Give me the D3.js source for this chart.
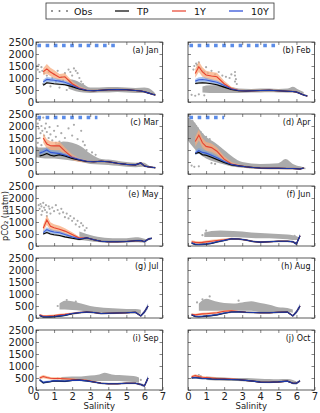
<!DOCTYPE html>
<html>
<head>
<meta charset="utf-8">
<script src="https://cdn.jsdelivr.net/npm/d3@7"></script>
<style>
  body { margin: 0; background: #fff; }
  text { font-family: "DejaVu Sans", sans-serif; }
</style>
</head>
<body>
<script>
// salinity grid shared by the model curves
const sal = [0.2,0.4,0.6,0.8,1.0,1.3,1.6,2.0,2.4,2.8,3.2,3.6,4.0,4.5,5.0,5.5,5.8,6.0,6.2,6.4,6.6];

const panelLabels = ["(a) Jan","(b) Feb","(c) Mar","(d) Apr","(e) May","(f) Jun","(g) Jul","(h) Aug","(i) Sep","(j) Oct"];

// TP curves
const tpSeries = [
  [null,700,800,780,760,740,720,640,540,480,470,490,510,520,510,480,460,430,380,330,290],
  [null,770,790,800,790,760,720,620,520,470,460,470,480,490,470,450,440,420,350,290,250],
  [750,790,850,780,750,800,750,650,580,520,510,530,510,450,400,380,460,330,300,280,260],
  [null,850,900,800,780,700,600,480,380,340,300,270,250,240,240,230,230,220,210,250,null],
  [null,500,560,500,470,440,380,320,270,340,260,200,180,180,190,220,230,180,280,320,null],
  [120,60,60,70,80,110,170,230,300,290,250,190,160,180,200,200,180,90,430,null,null],
  [100,40,40,45,50,80,110,180,220,250,230,190,200,210,220,240,90,250,500,null,null],
  [130,60,50,60,80,100,130,200,250,260,240,230,220,220,240,250,90,250,500,null,null],
  [420,300,330,350,380,370,360,400,410,380,330,280,260,260,280,280,230,170,500,null,null],
  [500,520,500,480,480,460,450,450,440,430,400,370,330,320,340,370,280,280,380,null,null]
];
// 10Y curves
const y10Series = [
  [null,840,940,920,905,870,820,700,560,490,470,490,510,520,510,480,460,430,380,330,290],
  [null,870,930,940,920,870,820,690,540,480,460,470,480,490,470,450,440,420,350,290,250],
  [870,930,1000,900,880,850,790,690,600,530,510,530,510,450,400,380,460,330,300,280,260],
  [null,880,970,900,870,780,680,520,400,340,300,270,250,240,240,230,230,220,210,250,null],
  [null,560,680,620,580,550,480,380,300,340,260,200,180,180,190,220,230,180,280,320,null],
  [130,70,65,75,90,120,175,235,300,290,250,190,160,180,200,200,180,90,430,null,null],
  [110,50,45,50,60,90,120,185,225,250,230,190,200,210,220,240,90,250,500,null,null],
  [140,70,60,70,90,110,140,205,250,260,240,230,220,220,240,250,90,250,500,null,null],
  [430,320,340,360,390,380,370,400,410,380,330,280,260,260,280,280,230,170,500,null,null],
  [510,520,500,480,480,460,450,450,440,430,400,370,330,320,340,370,280,280,380,null,null]
];
// 1Y curves
const y1Series = [
  [null,1260,1380,1250,1160,1020,1050,760,580,490,470,490,510,520,510,480,460,430,380,330,290],
  [null,1190,1470,1250,1125,1080,1050,760,560,480,460,470,480,490,470,450,440,420,350,290,250],
  [null,1500,1250,1180,1170,1170,950,700,580,530,510,530,510,450,400,380,460,330,300,280,260],
  [null,1350,1620,1300,1150,1100,950,620,420,350,300,270,250,240,240,230,230,220,210,250,null],
  [null,740,1080,820,760,700,620,480,330,340,260,200,180,180,190,220,230,180,280,320,null],
  [180,150,140,150,170,200,230,260,300,290,250,190,160,180,200,200,180,90,430,null,null],
  [130,80,80,90,100,130,150,190,230,250,230,190,200,210,220,240,90,250,500,null,null],
  [150,130,150,170,180,200,220,280,300,270,240,230,220,220,240,250,90,250,500,null,null],
  [500,560,520,490,480,480,470,450,420,400,340,280,260,260,280,280,230,170,500,null,null],
  [550,600,560,530,520,500,480,470,460,440,400,370,330,320,340,370,280,280,380,null,null]
];
// half widths of the shaded ranges
const y1Spread = [
  [null,150,200,180,170,150,150,120,80,50,40,40,40,40,40,40,40,40,30,30,30],
  [null,180,220,200,180,170,170,130,80,50,40,40,40,40,40,40,40,40,30,30,30],
  [null,200,200,180,170,170,150,120,80,50,40,40,40,40,40,40,40,40,30,30,30],
  [null,200,220,200,180,170,150,120,80,50,40,40,40,40,40,40,40,40,30,30,30],
  [null,150,200,170,150,140,120,90,60,40,30,30,30,30,30,30,30,30,30,30,30],
  [60,60,60,60,60,60,50,50,40,30,30,30,30,30,30,30,30,40,60,null,null],
  [50,50,50,50,50,50,50,40,40,30,30,30,30,30,30,30,40,60,80,null,null],
  [50,50,50,50,50,50,50,40,40,30,30,30,30,30,30,30,40,60,80,null,null],
  [60,70,60,50,50,50,40,40,40,30,30,30,30,30,30,30,40,50,60,null,null],
  [50,60,50,50,40,40,40,40,30,30,30,30,30,30,30,30,30,40,40,null,null]
];
const y10Spread = [
  [null,90,100,100,90,80,80,70,50,40,30,30,30,30,30,30,30,30,30,30,30],
  [null,90,100,100,90,80,80,70,50,40,30,30,30,30,30,30,30,30,30,30,30],
  [90,100,110,100,90,80,80,70,50,40,30,30,30,30,30,30,30,30,30,30,30],
  [null,100,110,100,90,80,70,60,40,30,30,30,30,30,30,30,30,30,30,30,null],
  [null,80,100,90,80,70,60,50,40,30,30,30,30,30,30,30,30,40,50,50,null],
  [40,40,40,40,40,40,40,30,30,30,30,30,30,30,30,30,40,70,100,null,null],
  [40,40,40,40,40,40,40,30,30,30,30,30,30,30,30,30,50,80,110,null,null],
  [40,40,40,40,40,40,40,30,30,30,30,30,30,30,30,30,50,80,110,null,null],
  [50,60,50,40,40,40,40,30,30,30,30,30,30,30,30,30,50,70,110,null,null],
  [40,40,40,40,40,40,30,30,30,30,30,30,30,30,30,30,40,50,60,null,null]
];

// dense observation clouds (envelopes)
const obsSal = [
  [1.8,2.2,2.6,3.0,3.5,4.0,4.5,5.0,5.5,6.0,6.4,6.6],
  [0.8,1.2,1.6,2.0,2.4,2.8,3.5,4.0,4.5,5.0,5.5,5.8,6.1,6.4],
  [0.0,0.5,1.0,1.5,2.0,2.5,3.0,3.5,4.0,4.5,5.0,5.5,5.9,6.3],
  [0.0,0.3,0.6,1.0,1.5,2.0,2.5,3.0,4.0,5.0,5.4,5.8,6.2,6.5],
  [2.4,2.8,3.2,3.6,4.0,4.5,5.0,5.5,5.8,6.1],
  [0.9,1.3,1.8,2.5,3.0,3.5,4.0,4.5,5.0,5.5,5.8,6.1],
  [1.3,1.6,2.0,2.5,3.0,3.5,4.0,4.5,5.0,5.5,5.8],
  [0.6,1.0,1.5,2.0,2.5,3.0,3.5,4.0,4.5,5.0,5.5,5.8],
  [1.4,2.0,2.5,3.0,3.5,3.8,4.2,4.6,5.0,5.4,5.7],
  [1.0,1.5,2.0,2.5,3.0,3.5,4.0,4.5,5.0,5.5,5.8,6.0]
];
const obsLo = [
  [550,450,400,380,400,400,420,400,380,380,330,280],
  [400,380,380,380,380,380,400,400,410,400,400,420,380,330],
  [700,650,650,600,550,500,420,400,380,340,300,280,300,260],
  [1400,1100,850,650,500,400,300,260,220,230,250,240,220,200],
  [250,220,180,160,150,150,150,160,150,150],
  [380,380,380,370,350,330,320,320,300,280,250,250],
  [350,350,330,300,250,230,200,200,200,190,180],
  [300,300,300,300,320,300,300,250,250,250,250,220],
  [400,400,390,380,380,380,380,370,350,330,300],
  [420,400,390,370,360,340,320,310,300,330,300,280]
];
const obsHi = [
  [950,900,750,600,600,620,620,600,580,600,500,350],
  [650,700,700,680,620,560,540,560,560,540,560,640,520,420],
  [1100,1100,1200,1350,1300,1150,850,650,600,550,500,470,480,320],
  [2300,2200,1900,1550,1300,1000,700,500,420,450,620,420,320,260],
  [600,500,420,360,330,320,320,360,340,280],
  [560,620,650,620,600,560,540,520,500,480,450,380],
  [600,720,700,600,500,450,420,400,380,370,340],
  [600,800,700,620,600,650,700,620,550,450,420,350],
  [540,560,560,600,650,720,650,620,600,580,520],
  [560,540,520,500,500,490,470,460,450,460,420,360]
];
// scattered observations outside the dense clouds [salinity, pCO2]
const obsPts = [
  [[0.05,1500],[0.1,1350],[0.15,1550],[0.2,1250],[0.3,1450],[0.35,1300],[0.45,1200],[0.6,1100],[0.7,1250],[0.9,1000],[1.0,1150],[1.1,850],[1.2,1300],[1.4,1050],[1.5,900],[1.6,1200],[1.8,1350],[1.9,1250],[2.0,1100],[2.1,1400],[2.2,1300],[2.3,1200],[2.4,1000],[0.4,750],[0.8,650],[1.3,600],[1.7,500],[2.5,850],[2.6,750]],
  [[0.3,1350],[0.35,1500],[0.45,1600],[0.5,1550],[0.55,1450],[0.6,1650],[0.7,1400],[0.8,1300],[0.9,1250],[1.0,1450],[1.1,1200],[1.3,1300],[1.5,1150],[1.7,1250],[1.9,1100],[2.1,1050],[2.3,1000],[2.6,1250],[2.6,1100],[2.65,950],[2.6,850],[2.7,750],[0.2,300],[0.4,260],[0.6,320],[0.9,280],[2.4,1150]],
  [[0.05,2300],[0.1,2100],[0.15,1900],[0.2,2250],[0.25,1700],[0.3,2000],[0.35,1800],[0.4,2350],[0.45,1600],[0.5,1900],[0.55,2100],[0.6,1750],[0.7,1500],[0.75,1950],[0.8,1650],[0.9,1400],[1.0,1800],[1.1,1550],[1.2,2000],[1.3,1350],[1.4,1700],[1.5,1250],[1.6,1500],[1.8,1900],[2.0,1600],[2.1,2050],[2.3,1450],[2.5,1800],[2.6,1350],[2.7,1200],[0.1,1300],[0.2,1500],[0.05,1100],[0.3,1200],[0.6,1300],[1.1,1300],[2.8,1000],[3.1,900],[3.3,800]],
  [[0.02,2450],[0.05,2300],[0.1,2400],[0.1,2150],[0.15,2000],[0.2,2350],[0.25,2200],[0.3,1900],[0.35,2100],[0.4,1800],[0.45,2000],[0.5,1700],[0.55,1900],[0.6,1600],[0.7,1750],[0.75,1500],[0.8,1650],[0.9,1400],[1.0,1550],[1.1,1300],[1.2,1450],[1.4,1250],[1.6,1150],[0.2,350],[0.35,300],[0.6,320],[1.3,450],[1.5,420],[0.1,1700],[0.3,1600]],
  [[0.15,1700],[0.2,1550],[0.25,1750],[0.3,1650],[0.35,1450],[0.4,1800],[0.45,1600],[0.5,1500],[0.55,1700],[0.6,1400],[0.7,1650],[0.75,1550],[0.8,1350],[0.9,1600],[1.0,1450],[1.1,1700],[1.2,1500],[1.3,1350],[1.4,1550],[1.5,1400],[1.7,1350],[1.9,1250],[2.1,1150],[2.3,1050],[2.5,950],[2.6,850],[2.8,750],[1.8,1150],[2.0,1050],[2.2,900],[2.4,800],[2.7,650],[0.3,1300],[0.6,1250],[1.6,1200]],
  [[0.8,450],[1.0,640],[5.9,420],[6.0,350]],
  [[1.2,500],[1.7,750],[2.2,680]],
  [[0.5,650],[0.8,780],[1.2,900],[2.8,720]],
  [[5.8,420],[1.2,480]],
  [[0.6,620],[0.7,580]]
];
// extent of the blue square markers along the top of panels a-d
const flagEnd = [4.6,4.9,3.4,2.0,null,null,null,null,null,null];

const legendItems = ["Obs","TP","1Y","10Y"];
const xTicks = [0,1,2,3,4,5,6,7];
const yTicks = [0,500,1000,1500,2000,2500];

const W = 320, H = 413;
const colX = [36, 188], rowY = [42, 114, 186, 258, 330];
const pw = 126.5, ph = 60;

const C = {
  obs: "#ababab", tp: "#000000", y1: "#e8422e", y10: "#2347d6",
  y1band: "#f7ab7e", y10band: "#6f9de3", tpband: "#555555", flag: "#5b8ce8"
};

const svg = d3.select("body").append("svg").attr("width", W).attr("height", H);

panelLabels.forEach(function (lab, i) {
  const col = i % 2, row = Math.floor(i / 2);
  const x0 = colX[col], y0 = rowY[row];
  const x = d3.scaleLinear().domain([0, 7]).range([x0, x0 + pw]);
  const y = d3.scaleLinear().domain([0, 2500]).range([y0 + ph, y0]);

  svg.append("clipPath").attr("id", "clip" + i)
    .append("rect").attr("x", x0).attr("y", y0).attr("width", pw).attr("height", ph);
  const g = svg.append("g").attr("clip-path", "url(#clip" + i + ")");

  // observations
  const env = obsSal[i].map((s, k) => ({s: s, lo: obsLo[i][k], hi: obsHi[i][k]}));
  g.append("path")
    .attr("d", d3.area().curve(d3.curveMonotoneX).x(d => x(d.s)).y0(d => y(d.lo)).y1(d => y(d.hi))(env))
    .attr("fill", C.obs);
  g.selectAll("circle.pt").data(obsPts[i]).enter().append("circle")
    .attr("cx", d => x(d[0])).attr("cy", d => y(d[1])).attr("r", 1.1).attr("fill", C.obs);

  const rows = (vals, spr) => sal.map((s, k) => ({s: s, v: vals[k], e: spr ? spr[k] : 0}));
  const band = d3.area().defined(d => d.v != null && d.e != null)
    .x(d => x(d.s)).y0(d => y(d.v - d.e)).y1(d => y(d.v + d.e));
  const line = d3.line().defined(d => d.v != null).x(d => x(d.s)).y(d => y(d.v));

  const tpD = rows(tpSeries[i], tpSeries[i].map(v => v == null ? null : 40));
  const y1D = rows(y1Series[i], y1Spread[i]);
  const y10D = rows(y10Series[i], y10Spread[i]);

  g.append("path").attr("d", band(y1D)).attr("fill", C.y1band).attr("opacity", 0.75);
  g.append("path").attr("d", band(y10D)).attr("fill", C.y10band).attr("opacity", 0.6);
  g.append("path").attr("d", band(tpD)).attr("fill", C.tpband).attr("opacity", 0.35);

  g.append("path").attr("d", line(y1D)).attr("fill", "none").attr("stroke", C.y1).attr("stroke-width", 1.1);
  g.append("path").attr("d", line(tpD)).attr("fill", "none").attr("stroke", C.tp).attr("stroke-width", 1.1);
  g.append("path").attr("d", line(y10D)).attr("fill", "none").attr("stroke", C.y10).attr("stroke-width", 1.1).attr("opacity", 0.8);

  if (flagEnd[i] != null) {
    g.append("line")
      .attr("x1", x(0.08)).attr("x2", x(flagEnd[i]))
      .attr("y1", y(2350)).attr("y2", y(2350))
      .attr("stroke", C.flag).attr("stroke-width", 3.5).attr("stroke-dasharray", "3.6,4.6");
  }

  // axes with inward ticks on all sides
  const ax = svg.append("g").attr("font-size", 7.3);
  ax.append("g").attr("transform", "translate(" + x0 + ",0)")
    .call(d3.axisLeft(y).tickValues(yTicks).tickSize(-3).tickPadding(2)
      .tickFormat(col === 0 ? d3.format("d") : () => ""));
  ax.append("g").attr("transform", "translate(" + (x0 + pw) + ",0)")
    .call(d3.axisRight(y).tickValues(yTicks).tickSize(-3).tickFormat(() => ""));
  ax.append("g").attr("transform", "translate(0," + y0 + ")")
    .call(d3.axisTop(x).tickValues(xTicks).tickSize(-3).tickFormat(() => ""));
  ax.append("g").attr("transform", "translate(0," + (y0 + ph) + ")")
    .call(d3.axisBottom(x).tickValues(xTicks).tickSize(-3).tickPadding(3)
      .tickFormat(row === 4 ? d3.format("d") : () => ""));
  ax.selectAll(".domain").remove();
  ax.selectAll(".tick line").attr("stroke", "#333").attr("stroke-width", 0.6);
  ax.selectAll("text").attr("fill", "#222").attr("font-family", "DejaVu Sans");

  svg.append("rect").attr("x", x0).attr("y", y0).attr("width", pw).attr("height", ph)
    .attr("fill", "none").attr("stroke", "#333").attr("stroke-width", 0.8);

  svg.append("text").attr("x", x0 + pw - 4).attr("y", y0 + 11)
    .attr("text-anchor", "end").attr("font-size", 8).attr("fill", "#111").text(lab);

  if (row === 4) {
    svg.append("text").attr("x", x0 + pw / 2).attr("y", 409)
      .attr("text-anchor", "middle").attr("font-size", 8.5).attr("fill", "#222").text("Salinity");
  }
});

// y label
svg.append("text")
  .attr("transform", "translate(8," + (rowY[2] + ph / 2) + ") rotate(-90)")
  .attr("text-anchor", "middle").attr("font-size", 8).attr("fill", "#222")
  .text("pCO\u2082 (\u03bcatm)");

// legend
const lg = svg.append("g");
lg.append("rect").attr("x", 46).attr("y", 3).attr("width", 228).attr("height", 16)
  .attr("fill", "#fff").attr("stroke", "#333").attr("stroke-width", 0.8);
const lgX = [52, 115, 172, 229];
legendItems.forEach(function (name, k) {
  const lx = lgX[k];
  if (k === 0) {
    [0, 7.5, 15].forEach(dx => lg.append("circle").attr("cx", lx + dx).attr("cy", 11).attr("r", 1).attr("fill", "#777"));
  } else {
    const col = k === 1 ? C.tp : k === 2 ? C.y1 : C.y10;
    lg.append("line").attr("x1", lx).attr("x2", lx + 14).attr("y1", 11).attr("y2", 11)
      .attr("stroke", col).attr("stroke-width", 1.2);
  }
  lg.append("text").attr("x", lx + 22).attr("y", 14.5).attr("font-size", 9.5).attr("fill", "#111").text(name);
});
</script>
</body>
</html>
